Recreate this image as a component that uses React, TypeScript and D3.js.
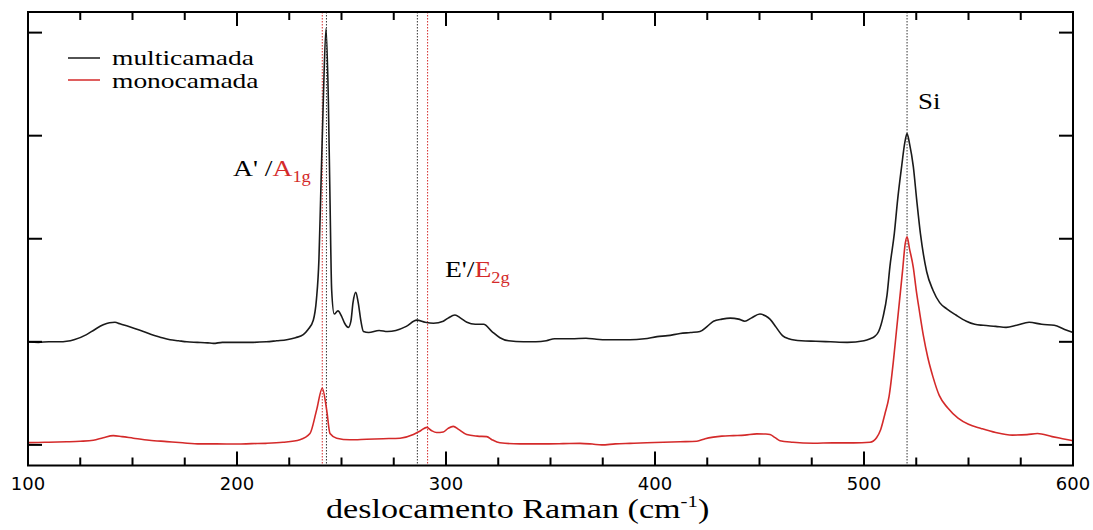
import React from "react";
import * as d3 from "d3";

// Raman shift (cm^-1) and intensity (arb. units, offset) for each spectrum
const multiX = [100,105,110,115,118.5,122,128,132,136,139,141.6,144,147.2,151,155.2,159,163.2,168,172,176,181,186,188.7,193,200,207.8,214,219,223.8,228,231.7,234,236.5,238,239.2,240,241.3,242.6,243.7,244.5,245.3,246.5,248.3,250,251.5,253.3,254.5,255.5,256.8,258,259.3,260.5,263,268,272,276,281,286,290,294,298.7,301,304.3,307,310,314,318,322,325.8,330,337,343,348,352,360,367,372,377,383,388,395,401,406,412,417,421.5,425,428,432,436,440,443,446,450.2,453,455,458,461,464,470,477,484,492,500,503,505,507,509.2,511,512.4,514.5,516.1,518,519.5,520.6,521.8,523.6,525.2,527,530,533,536.2,539.6,544,549,553,557,563,568,573,579,585,591,596,600];
const multiY = [1.0,0.995,1.0,1.0,1.005,1.02,1.07,1.12,1.165,1.185,1.19,1.175,1.155,1.13,1.1,1.07,1.045,1.02,1.01,1.0,0.995,0.99,0.985,0.995,0.995,0.995,1.0,1.01,1.02,1.04,1.07,1.12,1.21,1.41,1.8,2.38,3.35,4.04,3.35,2.38,1.5,1.27,1.3,1.25,1.18,1.14,1.2,1.38,1.48,1.38,1.2,1.1,1.09,1.11,1.1,1.11,1.15,1.21,1.19,1.18,1.2,1.23,1.26,1.23,1.19,1.17,1.17,1.1,1.04,1.01,1.0,1.0,1.01,1.03,1.03,1.035,1.025,1.02,1.02,1.02,1.03,1.05,1.06,1.08,1.09,1.1,1.15,1.2,1.22,1.23,1.22,1.2,1.23,1.27,1.25,1.22,1.14,1.06,1.03,1.01,1.005,1.0,0.995,1.01,1.03,1.05,1.1,1.25,1.45,1.73,2.05,2.38,2.7,2.93,3.02,2.92,2.7,2.38,2.05,1.68,1.5,1.38,1.32,1.26,1.2,1.17,1.16,1.15,1.14,1.16,1.19,1.17,1.16,1.12,1.09];

const monoX = [100,108,118.5,125,131.3,136,140.8,145,150.4,158,166.4,174,182.3,190,200,207,214,222,230.1,234.9,238.1,240.8,242.9,244.5,247.7,254,262,270,278,284.4,288,290.8,293,295.5,298.7,301,303.5,306,309.9,315,319.5,322,325.8,335.4,348.2,356,364.1,370,374.5,381,388,396,404,412,420,424,427.9,432,437.5,443,448.7,453,455,457.5,459.8,466,475.8,485,495,502.9,506,508,510,512,514,515.5,517,518.5,519.7,520.6,521.8,523.6,525,526.5,528.5,530.5,533,536,540,545,550,556,563,571,578,583,590,595,600];
const monoY = [0.022,0.025,0.03,0.035,0.045,0.07,0.09,0.08,0.065,0.045,0.032,0.02,0.01,0.01,0.008,0.012,0.015,0.025,0.05,0.11,0.34,0.55,0.34,0.11,0.065,0.05,0.055,0.06,0.065,0.1,0.14,0.17,0.14,0.12,0.125,0.16,0.18,0.15,0.1,0.085,0.08,0.05,0.02,0.01,0.01,0.012,0.015,0.008,0.0,0.01,0.015,0.02,0.025,0.03,0.035,0.06,0.075,0.085,0.09,0.095,0.107,0.105,0.1,0.07,0.04,0.025,0.016,0.02,0.02,0.026,0.07,0.15,0.3,0.47,0.8,1.1,1.4,1.7,1.95,2.02,1.9,1.72,1.5,1.3,1.05,0.85,0.66,0.48,0.36,0.26,0.2,0.16,0.12,0.095,0.1,0.11,0.08,0.06,0.04];

const redMarkers = [240.8, 291.2];
const blackMarkers = [242.8, 286.3, 520.6];

const xMajorTicks = [100, 200, 300, 400, 500, 600];
const xMinorTicks = [125,150,175,225,250,275,325,350,375,425,450,475,525,550,575];
const yTicks = [0, 1, 2, 3, 4];

const seriesNames = ["multicamada", "monocamada"];

const BLACK = "#1a1a1a";
const RED = "#d42a2a";

export default function App() {
  const left = 28, right = 1073, top = 12, bottom = 465.5;
  const x = d3.scaleLinear().domain([100, 600]).range([left, right]);
  const y = d3.scaleLinear().domain([-0.2, 4.2]).range([bottom, top]);

  const line = d3.line<[number, number]>()
    .x(d => x(d[0]))
    .y(d => y(d[1]))
    .curve(d3.curveMonotoneX);

  const multiPts = multiX.map((v, i) => [v, multiY[i]] as [number, number]);
  const monoPts = monoX.map((v, i) => [v, monoY[i]] as [number, number]);

  const serif = "'Liberation Serif', 'Times New Roman', serif";
  const sans = "'DejaVu Sans', Verdana, sans-serif";
  const tickW = 2;

  return (
    <svg width={1093} height={530} style={{ position: "absolute", left: 0, top: 0, background: "#fff" }}>
      <rect x={0} y={0} width={1093} height={530} fill="#fff" />
      {/* marker lines */}
      {redMarkers.map((m, i) => (
        <line key={"r" + i} x1={x(m)} x2={x(m)} y1={top} y2={bottom} stroke={RED} strokeWidth={1} strokeDasharray="1.5,1.5" />
      ))}
      {blackMarkers.map((m, i) => (
        <line key={"b" + i} x1={x(m)} x2={x(m)} y1={top} y2={bottom} stroke="#333" strokeWidth={1} strokeDasharray="1.5,1.5" />
      ))}
      {/* spectra */}
      <path d={line(multiPts) || ""} fill="none" stroke={BLACK} strokeWidth={1.6} />
      <path d={line(monoPts) || ""} fill="none" stroke={RED} strokeWidth={1.6} />

      {/* frame */}
      <rect x={left} y={top} width={right - left} height={bottom - top} fill="none" stroke="#000" strokeWidth={2} />
      {/* x ticks */}
      {xMajorTicks.map(t => (
        <g key={"xm" + t}>
          <line x1={x(t)} x2={x(t)} y1={bottom} y2={bottom - 14} stroke="#000" strokeWidth={tickW} />
          <line x1={x(t)} x2={x(t)} y1={top} y2={top + 14} stroke="#000" strokeWidth={tickW} />
          <text x={x(t)} y={490} textAnchor="middle" fontFamily={sans} fontSize={18} fill="#000">{t}</text>
        </g>
      ))}
      {xMinorTicks.map(t => (
        <g key={"xn" + t}>
          <line x1={x(t)} x2={x(t)} y1={bottom} y2={bottom - 8} stroke="#000" strokeWidth={tickW} />
          <line x1={x(t)} x2={x(t)} y1={top} y2={top + 8} stroke="#000" strokeWidth={tickW} />
        </g>
      ))}
      {/* y ticks */}
      {yTicks.map(t => (
        <g key={"y" + t}>
          <line x1={left} x2={left + 14} y1={y(t)} y2={y(t)} stroke="#000" strokeWidth={tickW} />
          <line x1={right} x2={right - 14} y1={y(t)} y2={y(t)} stroke="#000" strokeWidth={tickW} />
        </g>
      ))}

      {/* legend */}
      <line x1={68} x2={100} y1={58} y2={58} stroke={BLACK} strokeWidth={1.5} />
      <line x1={68} x2={100} y1={80} y2={80} stroke={RED} strokeWidth={1.5} />
      <text transform="translate(112,65) scale(1.25,1)" fontFamily={serif} fontSize={22} fill="#000">{seriesNames[0]}</text>
      <text transform="translate(112,88) scale(1.25,1)" fontFamily={serif} fontSize={22} fill="#000">{seriesNames[1]}</text>

      {/* annotations */}
      <text transform="translate(233,176) scale(1.15,1)" fontFamily={serif} fontSize={24}>
        <tspan fill="#000">A' /</tspan>
        <tspan fill={RED}>A</tspan>
        <tspan fill={RED} fontSize={16} dy={6}>1g</tspan>
      </text>
      <text transform="translate(445,277) scale(1.15,1)" fontFamily={serif} fontSize={24}>
        <tspan fill="#000">E'/</tspan>
        <tspan fill={RED}>E</tspan>
        <tspan fill={RED} fontSize={16} dy={6}>2g</tspan>
      </text>
      <text transform="translate(918,109) scale(1.12,1)" fontFamily={serif} fontSize={24} fill="#000">Si</text>

      {/* axis title */}
      <text transform="translate(326,518) scale(1.22,1)" fontFamily={serif} fontSize={28} fill="#000">
        <tspan>deslocamento Raman (cm</tspan>
        <tspan fontSize={17} dy={-11}>-1</tspan>
        <tspan dy={11}>)</tspan>
      </text>
    </svg>
  );
}
